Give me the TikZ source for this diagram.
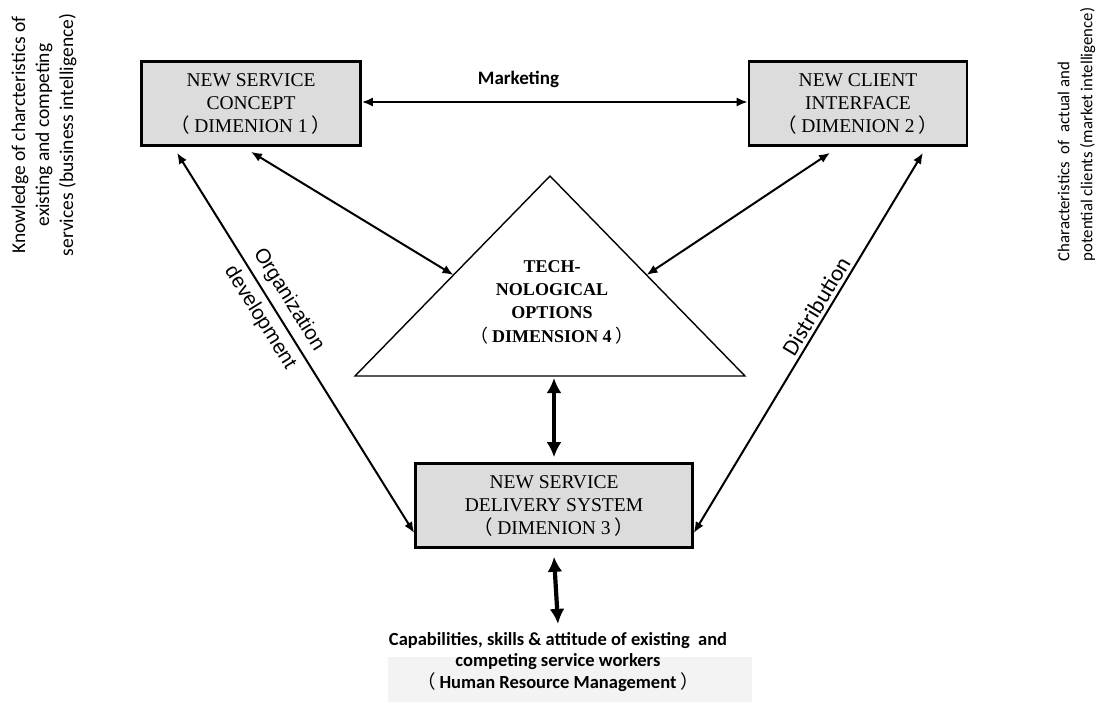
\documentclass[tikz,border=0pt]{standalone}
\usepackage{fontspec}
\setmainfont{Liberation Serif}
\newfontfamily\calfont{Carlito}
\newfontfamily\arialfont{Liberation Sans}
\newfontfamily\cjkfont{Noto Sans CJK SC}
\usetikzlibrary{arrows.meta,calc}
\definecolor{boxgray}{RGB}{220,220,220}
\definecolor{bandgray}{RGB}{243,243,243}
\newcommand{\lpar}{{\cjkfont\mdseries （}\kern4pt}
\newcommand{\rpar}{\kern4pt{\cjkfont\mdseries ）}}

\begin{document}
\begin{tikzpicture}[x=1pt,y=-1pt,
  dimbox/.style={draw=black, line width=2.6pt, fill=boxgray, minimum height=84pt,
    inner sep=0pt, align=center, font=\fontsize{19.5}{23}\selectfont},
  twoway/.style={line width=2pt, {Latex[length=11pt,width=9pt]}-{Latex[length=11pt,width=9pt]}},
  bigway/.style={line width=4.2pt, {Latex[length=15pt,width=15pt]}-{Latex[length=15pt,width=15pt]}},
  sidetext/.style={rotate=90, font=\calfont\fontsize{19.5}{24}\selectfont}]

% canvas
\useasboundingbox (0,0) rectangle (1101,702);
\fill[white] (0,0) rectangle (1101,702);
\fill[bandgray] (388,657) rectangle (752,702);

% the four dimensions
\node[dimbox, minimum width=219pt] (b1) at (251,103.5)
  {NEW SERVICE\\CONCEPT\\\lpar DIMENION 1\rpar};
\node[dimbox, minimum width=218pt] (b2) at (858,103.5)
  {NEW CLIENT\\INTERFACE\\\lpar DIMENION 2\rpar};
\node[dimbox, minimum width=277pt] (b3) at (554,505.5)
  {NEW SERVICE\\DELIVERY SYSTEM\\\lpar DIMENION 3\rpar};

\coordinate (apex) at (550,176);
\coordinate (tl) at (355,376);
\coordinate (tr) at (745,376);
\draw[line width=1.4pt, line join=miter] (apex) -- (tr) -- (tl) -- cycle;
\node[align=center, font=\bfseries\fontsize{18}{23.3}\selectfont] (tech) at (552,302)
  {TECH-\\NOLOGICAL\\OPTIONS\\\lpar DIMENSION 4\rpar};
\coordinate (tleft) at ($(tl)!0.505!(apex)$);
\coordinate (tright) at ($(tr)!0.505!(apex)$);

% outside knowledge
\node[sidetext, align=center] (biz) at (44,135)
  {Knowledge of charcteristics of\\existing and competing\\services (business intelligence)};
\node[sidetext, align=left, font=\calfont\fontsize{16.8}{23}\selectfont] (mkt) at (1076.5,134.5)
  {Characteristics~ of~ actual and\\potential clients (market intelligence)};
\node[align=center, font=\calfont\bfseries\fontsize{18.5}{21.5}\selectfont] (hrm) at (558,662)
  {Capabilities, skills \& attitude of existing~ and\\competing service workers\\\lpar Human Resource Management\rpar};

% links
\draw[twoway] ([yshift=1.5pt]b1.east) -- ([yshift=1.5pt]b2.west)
  node[pos=0.406, above=10pt, font=\calfont\bfseries\fontsize{19}{23}\selectfont] (mklab) {Marketing};
\draw[twoway] ([yshift=-5pt]b1.south) -- (tleft);
\draw[twoway] ([xshift=-28pt,yshift=-6pt]b2.south) -- (tright);
\draw[twoway] ([xshift=-74pt,yshift=-6pt]b1.south) -- ([yshift=-27.5pt]b3.west)
  node[pos=0.41, sloped, align=center, font=\arialfont\fontsize{20.5}{34}\selectfont] (orglab)
  {Organization\\development};
\draw[twoway] ([xshift=65pt,yshift=-6pt]b2.south) -- ([yshift=-27.5pt]b3.east)
  node[pos=0.42, sloped, above=0pt, font=\calfont\fontsize{23}{26}\selectfont] (dislab) {Distribution};
\draw[bigway] ([yshift=5pt]b3.north) -- ([yshift=-2pt]b3.north |- tl);
\draw[bigway] ([yshift=-8pt]b3.south) -- ([yshift=5pt]hrm.north);
\end{tikzpicture}
\end{document}
